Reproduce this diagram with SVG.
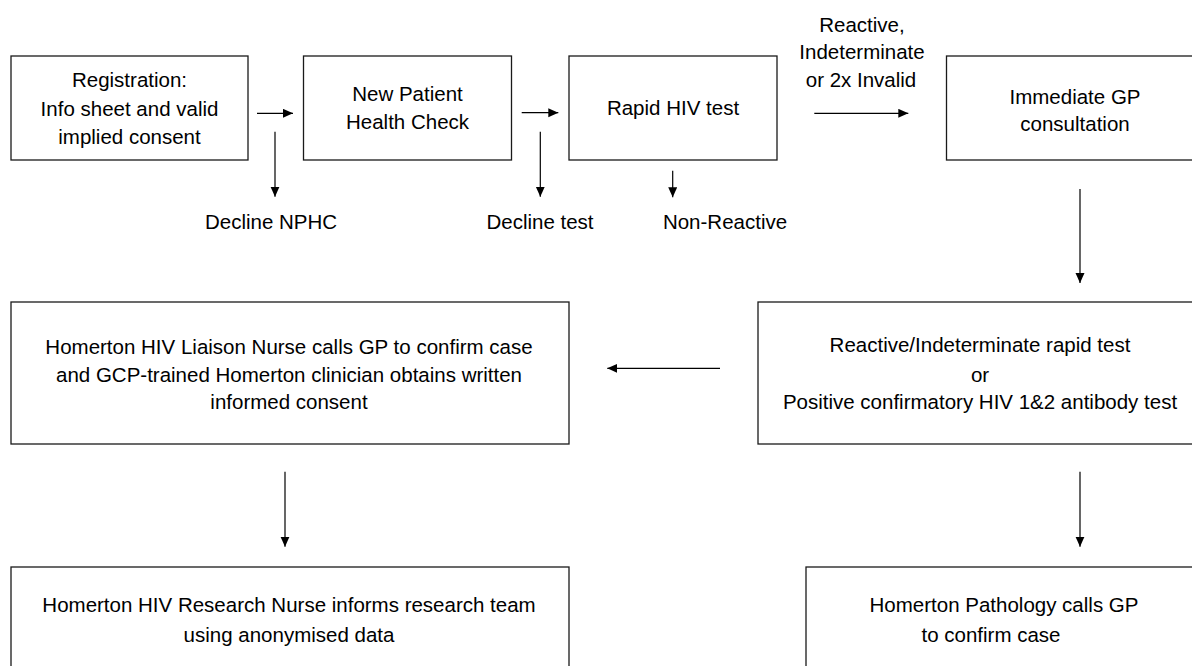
<svg xmlns="http://www.w3.org/2000/svg" width="1192" height="666" viewBox="0 0 1192 666">
<style>
.box{fill:#fff;stroke:#1a1a1a;stroke-width:1.3}
.t{font-family:"Liberation Sans",Arial,sans-serif;font-size:20.5px;fill:#000;text-anchor:middle}
.c{stroke:#000;stroke-width:1.2;fill:none;marker-end:url(#ah)}
</style>
<defs>
<marker id="ah" markerUnits="userSpaceOnUse" markerWidth="12" markerHeight="10" refX="10" refY="4.5" orient="auto">
<path d="M0,0 L10,4.5 L0,9 Z" fill="#000"/>
</marker>
</defs>
<rect width="1192" height="666" fill="#fff"/>
<g id="n1"><rect class="box" x="11" y="56" width="237" height="104"/>
<text class="t" x="129.5" y="87">Registration:</text>
<text class="t" x="129.5" y="115.5">Info sheet and valid</text>
<text class="t" x="129.5" y="143.5">implied consent</text></g>
<g id="n2"><rect class="box" x="303.5" y="56" width="208" height="104"/>
<text class="t" x="407.5" y="100.5">New Patient</text>
<text class="t" x="407.5" y="128.5">Health Check</text></g>
<g id="n3"><rect class="box" x="569" y="56" width="208" height="104"/>
<text class="t" x="673" y="114.5">Rapid HIV test</text></g>
<g id="n4"><rect class="box" x="946.5" y="56" width="260" height="104"/>
<text class="t" x="1075" y="103.5">Immediate GP</text>
<text class="t" x="1075" y="130.5">consultation</text></g>
<g id="l1"><text class="t" x="271" y="228.5">Decline NPHC</text></g>
<g id="l2"><text class="t" x="540" y="228.5">Decline test</text></g>
<g id="l3"><text class="t" x="725" y="228.5">Non-Reactive</text></g>
<g id="l4"><text class="t" x="862" y="31.7">Reactive,</text>
<text class="t" x="862" y="59.3">Indeterminate</text>
<text class="t" x="861" y="87.3">or 2x Invalid</text></g>
<g id="n5"><rect class="box" x="11" y="302" width="558" height="142"/>
<text class="t" x="289" y="354">Homerton HIV Liaison Nurse calls GP to confirm case</text>
<text class="t" x="289" y="382">and GCP-trained Homerton clinician obtains written</text>
<text class="t" x="289" y="409">informed consent</text></g>
<g id="n6"><rect class="box" x="758" y="302" width="450" height="142"/>
<text class="t" x="980" y="352">Reactive/Indeterminate rapid test</text>
<text class="t" x="980" y="382">or</text>
<text class="t" x="980" y="409">Positive confirmatory HIV 1&amp;2 antibody test</text></g>
<g id="n7"><rect class="box" x="11" y="567" width="558" height="120"/>
<text class="t" x="289" y="612">Homerton HIV Research Nurse informs research team</text>
<text class="t" x="289" y="642">using anonymised data</text></g>
<g id="n8"><rect class="box" x="806" y="567" width="400" height="120"/>
<text class="t" x="1004" y="612">Homerton Pathology calls GP</text>
<text class="t" x="991" y="642">to confirm case</text></g>
<g id="connectors">
<line class="c" x1="257" y1="113.3" x2="293" y2="113.3"/>
<line class="c" x1="275" y1="131.7" x2="275" y2="196.7"/>
<line class="c" x1="521.7" y1="112.7" x2="558.3" y2="112.7"/>
<line class="c" x1="540.3" y1="131.7" x2="540.3" y2="196.7"/>
<line class="c" x1="672.7" y1="170.7" x2="672.7" y2="197.3"/>
<line class="c" x1="814.3" y1="113.3" x2="908.3" y2="113.3"/>
<line class="c" x1="1080" y1="189" x2="1080" y2="283"/>
<line class="c" x1="720" y1="368.3" x2="607.3" y2="368.3"/>
<line class="c" x1="285" y1="471.7" x2="285" y2="546.7"/>
<line class="c" x1="1080" y1="471.7" x2="1080" y2="546.7"/>
</g>
</svg>
